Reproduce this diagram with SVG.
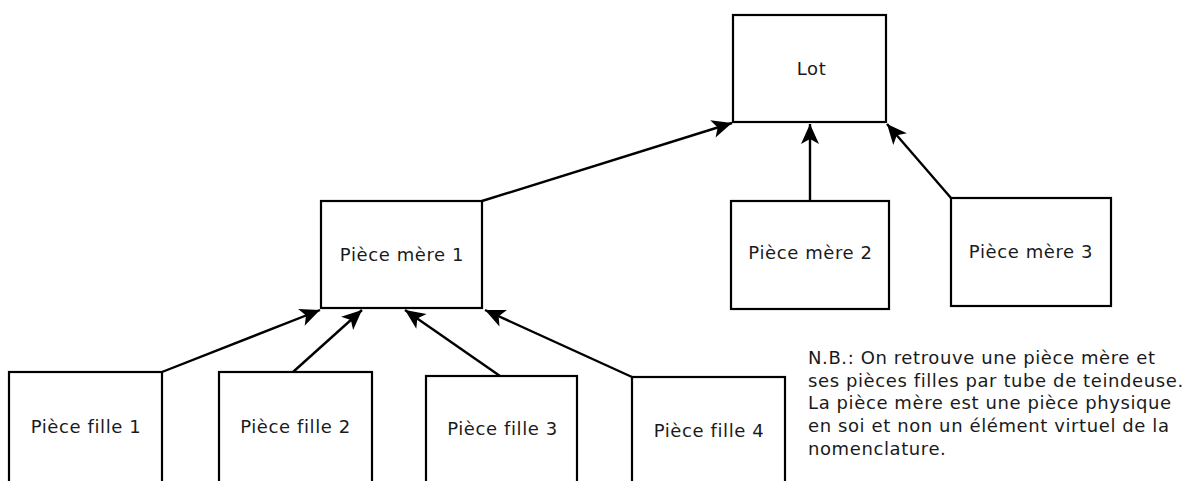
<svg xmlns="http://www.w3.org/2000/svg" width="1185" height="481" viewBox="0 0 1185 481">
  <style>
    .box { fill: #ffffff; stroke: #000000; stroke-width: 2.2; }
    .label { font-family: "DejaVu Sans", "Noto Sans", sans-serif; font-size: 18px; letter-spacing: 0.6px; fill: #1a1a1a; text-anchor: middle; }
    .note { font-family: "DejaVu Sans", "Noto Sans", sans-serif; font-size: 18px; letter-spacing: 0.6px; fill: #1a1a1a; }
    .link { stroke: #000000; stroke-width: 2.4; fill: none; marker-end: url(#head); }
  </style>
  <defs>
    <marker id="head" markerUnits="userSpaceOnUse" markerWidth="24" markerHeight="22" viewBox="-22 -11 24 22" refX="0" refY="0" orient="auto">
      <path d="M0,0 L-20,-9 L-15,0 L-20,9 Z" fill="#000000"/>
    </marker>
  </defs>
  <rect x="0" y="0" width="1185" height="481" fill="#ffffff"/>

  <!-- connectors: child part to parent -->
  <g id="connectors">
    <line class="link" x1="482" y1="201" x2="732" y2="123"/>
    <line class="link" x1="810" y1="201" x2="810" y2="124"/>
    <line class="link" x1="951" y1="198" x2="887" y2="124"/>
    <line class="link" x1="162" y1="372" x2="320" y2="310"/>
    <line class="link" x1="293" y1="372" x2="362" y2="310"/>
    <line class="link" x1="500" y1="376" x2="405" y2="310"/>
    <line class="link" x1="632" y1="377" x2="485" y2="310"/>
  </g>

  <g id="lot">
    <rect class="box" x="733" y="15" width="153" height="107"/>
    <text class="label" x="811.5" y="75">Lot</text>
  </g>

  <g id="piece-mere-1">
    <rect class="box" x="321" y="201" width="161" height="107"/>
    <text class="label" x="402" y="261">Pièce mère 1</text>
  </g>
  <g id="piece-mere-2">
    <rect class="box" x="731" y="201" width="158" height="108"/>
    <text class="label" x="810.5" y="259">Pièce mère 2</text>
  </g>
  <g id="piece-mere-3">
    <rect class="box" x="951" y="198" width="160" height="108"/>
    <text class="label" x="1031" y="258">Pièce mère 3</text>
  </g>

  <g id="piece-fille-1">
    <rect class="box" x="9" y="372" width="153" height="118"/>
    <text class="label" x="86" y="433">Pièce fille 1</text>
  </g>
  <g id="piece-fille-2">
    <rect class="box" x="219" y="372" width="153" height="118"/>
    <text class="label" x="295.5" y="433">Pièce fille 2</text>
  </g>
  <g id="piece-fille-3">
    <rect class="box" x="426" y="376" width="151" height="114"/>
    <text class="label" x="502.5" y="435">Pièce fille 3</text>
  </g>
  <g id="piece-fille-4">
    <rect class="box" x="632" y="377" width="153" height="113"/>
    <text class="label" x="709" y="437">Pièce fille 4</text>
  </g>

  <g id="note">
    <text class="note" x="808" y="364">N.B.: On retrouve une pièce mère et</text>
    <text class="note" x="808" y="386.7">ses pièces filles par tube de teindeuse.</text>
    <text class="note" x="808" y="409.4">La pièce mère est une pièce physique</text>
    <text class="note" x="808" y="432">en soi et non un élément virtuel de la</text>
    <text class="note" x="808" y="454.8">nomenclature.</text>
  </g>
</svg>
